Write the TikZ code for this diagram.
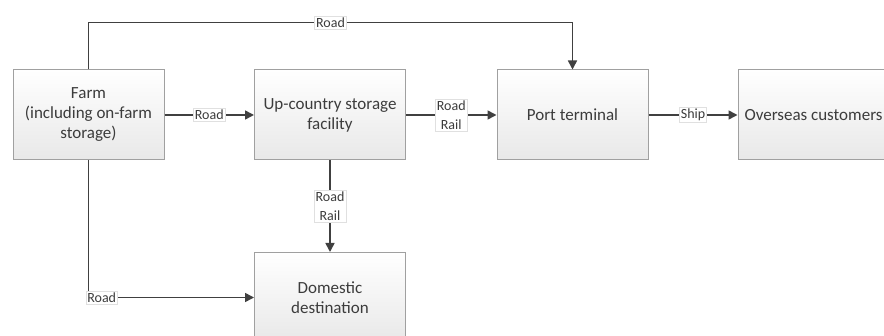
\documentclass[tikz,border=0pt]{standalone}
\usepackage{fontspec}
\setmainfont{Carlito}
\usepackage{tikz}
\usetikzlibrary{arrows.meta,positioning}
\definecolor{linegray}{RGB}{64,64,64}
\definecolor{boxgray}{RGB}{160,160,160}
\definecolor{txtgray}{RGB}{60,60,60}
\begin{document}
\begin{tikzpicture}[x=1pt,y=-1pt,box/.style={draw=boxgray,line width=1pt,top color=white,bottom color=black!9,align=center,minimum width=151pt,minimum height=90pt,inner sep=2pt,text=txtgray,font=\fontsize{17}{20}\selectfont},lbl/.style={fill=white,draw=black!12,line width=.6pt,inner sep=1.5pt,align=center,text=txtgray,font=\fontsize{14}{19}\selectfont},conn/.style={-{Triangle[length=9pt,width=9pt]},line width=1.6pt,draw=linegray}]

\clip (0,0) rectangle (884,336);
\fill[white] (0,0) rectangle (884,336);
\node[box] (farm) at (88.5,115) {Farm\\(including on-farm\\storage)};
\node[box] (upc) at (330,115) {Up-country storage\\facility};
\node[box] (port) at (572.5,115) {Port terminal};
\node[box] (over) at (813.5,115) {Overseas customers};
\node[box] (dom) at (330,297.5) {Domestic\\destination};
\coordinate (rt) at ([yshift=47pt]port.north);
\draw[conn] (farm.north) |- node[lbl,pos=.75]{Road} (rt) -- (port.north);
\draw[conn] (farm.east) -- node[lbl]{Road} (upc.west);
\draw[conn] (upc.east) -- node[lbl]{Road\\Rail} (port.west);
\draw[conn] (port.east) -- node[lbl]{Ship} (over.west);
\draw[conn] (upc.south) -- node[lbl]{Road\\Rail} (dom.north);
\draw[conn] (farm.south) |- node[lbl,pos=.5,anchor=west,xshift=-3pt]{Road} (dom.west);
\end{tikzpicture}
\end{document}
